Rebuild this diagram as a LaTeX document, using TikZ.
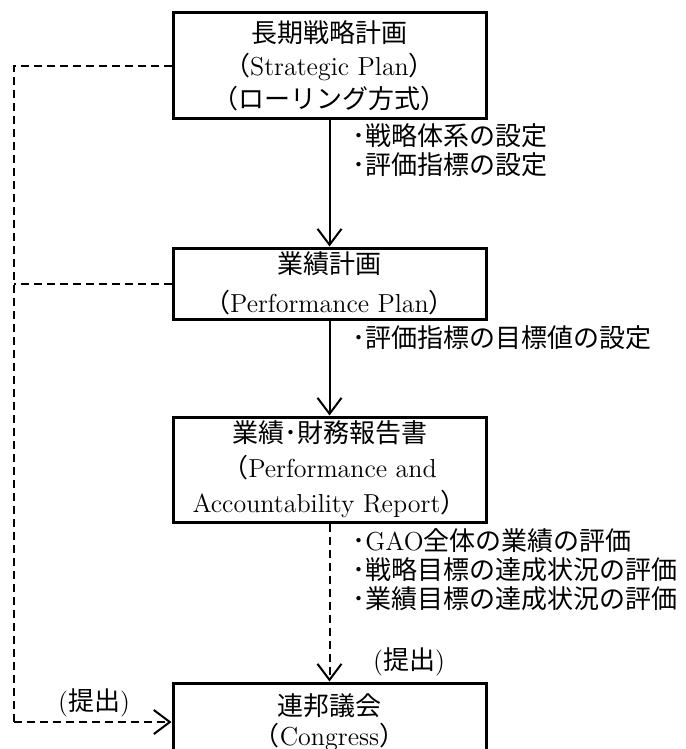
\documentclass[tikz,border=0pt]{standalone}
\usepackage{fontspec}
\newfontfamily\cjk{Noto Sans CJK JP}
\newcommand{\jp}[1]{{\cjk #1}}
\usetikzlibrary{positioning, arrows.meta}

\begin{document}
\begin{tikzpicture}[x=0.5pt, y=-0.5pt,
        box/.style={draw, line width=1.5pt, minimum width=156.5pt, align=center, inner sep=0pt, font=\fontsize{13}{16.5}\selectfont},
        note/.style={anchor=west, align=left, inner sep=0pt, font=\fontsize{13}{14.5}\selectfont},
        flow/.style={line width=1pt, -{Straight Barb[length=8pt, width=12pt, line width=1pt]}},
        dashline/.style={line width=1pt, dash pattern=on 4pt off 2.5pt}]
                \useasboundingbox (0,0) rectangle (685,749);
                \clip (0,0) rectangle (685,749);
                \node[box, minimum height=53pt] (b1) at (329.5,66) {\jp{長期戦略計画}\\\jp{（}Strategic Plan\jp{）}\\\jp{（ローリング方式）}};
                \node[box, minimum height=35.5pt] (b2) at (329.5,283.5) {\jp{業績計画}\\[3pt]\jp{（}Performance Plan\jp{）}};
                \node[box, minimum height=52.5pt] (b3) at (329.5,469.5) {\jp{業績･財務報告書}\\[1pt]\jp{（}Performance and\\[1pt]Accountability Report\jp{）}};
                \node[box, minimum height=39pt] (b4) at (329.5,722) {\jp{連邦議会}\\[-1.5pt]\jp{（}Congress\jp{）}};
                \node[note] (n1) at (352,150) {\jp{･戦略体系の設定}\\\jp{･評価指標の設定}};
                \node[note] (n2) at (352,338) {\jp{･評価指標の目標値の設定}};
                \node[note] (n3) at (352,570) {\jp{･}GAO\jp{全体の業績の評価}\\\jp{･戦略目標の達成状況の評価}\\\jp{･業績目標の達成状況の評価}};
                \node[note, anchor=center] (s1) at (409,662) {(\jp{提出})};
                \node[note, anchor=center] (s2) at (94,703) {(\jp{提出})};
                \path (b4.west) ++(-158,0) coordinate (lft);
                \draw[flow] (b1) -- (b2);
                \draw[flow] (b2) -- (b3);
                \draw[flow, dash pattern=on 4pt off 2.5pt] (b3) -- (b4);
                \draw[dashline] (b1.west) -| (lft);
                \draw[flow, dash pattern=on 4pt off 2.5pt] (lft) -- (b4.west);
                \draw[dashline] (b2.west) -- (b2.west -| lft);
            \end{tikzpicture}
\end{document}
